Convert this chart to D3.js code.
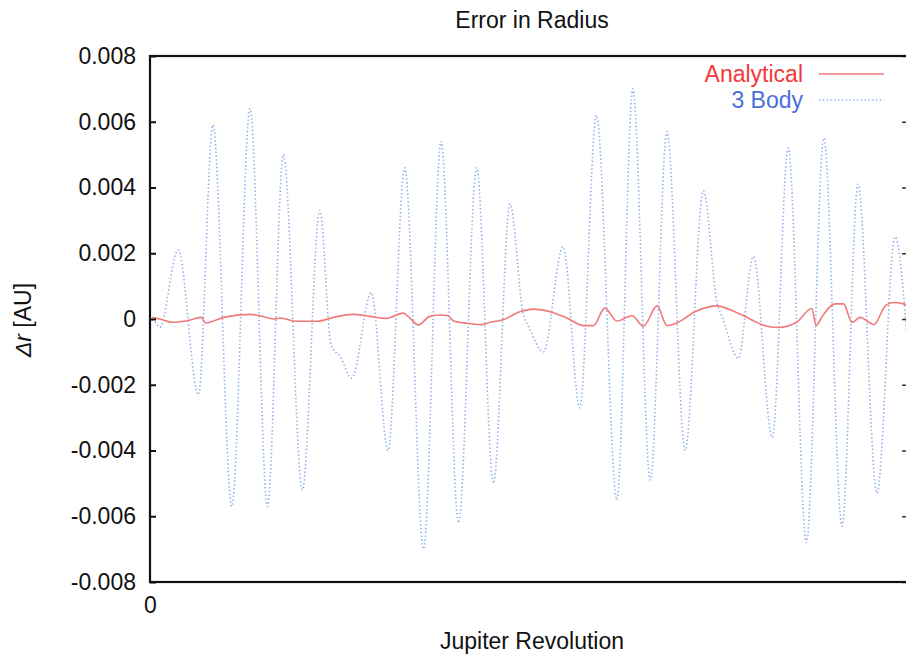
<!DOCTYPE html>
<html>
<head>
<meta charset="utf-8">
<script src="https://cdn.jsdelivr.net/npm/d3@7"></script>
<style>
  html, body { margin: 0; padding: 0; background: #fff; }
  svg { display: block; }
  text { font-family: "Liberation Sans", Arial, Helvetica, sans-serif; }
</style>
</head>
<body>
<div id="chart"></div>
<script>
// ---------- data ----------
const title = "Error in Radius";
const xLabel = "Jupiter Revolution";
const seriesNames = ["Analytical", "3 Body"];
const yTicks = [-0.008, -0.006, -0.004, -0.002, 0, 0.002, 0.004, 0.006, 0.008];
const xTicks = [0];

// x in fraction of the plotted revolution span, y in AU
const bodyX = [0.003, 0.007, 0.013, 0.037, 0.064, 0.083, 0.108, 0.132, 0.155, 0.176,
  0.201, 0.224, 0.239, 0.251, 0.266, 0.292, 0.314, 0.336, 0.361, 0.384,
  0.407, 0.431, 0.453, 0.475, 0.492, 0.501, 0.519, 0.545, 0.567, 0.589,
  0.616, 0.637, 0.660, 0.682, 0.706, 0.730, 0.748, 0.756, 0.776, 0.796,
  0.821, 0.842, 0.866, 0.889, 0.913, 0.934, 0.959, 0.983, 1.000];
const bodyY = [0.0000, -0.0001, -0.00025, 0.0021, -0.0023, 0.0059, -0.0057, 0.0064, -0.0057, 0.0050,
  -0.0052, 0.0033, -0.0008, -0.00115, -0.0018, 0.0008, -0.0040, 0.0046, -0.0070, 0.0054,
  -0.0062, 0.0046, -0.0050, 0.0035, 0.0002, -0.0003, -0.0010, 0.0022, -0.0027, 0.0062,
  -0.0055, 0.0070, -0.0049, 0.0057, -0.0040, 0.0039, 0.0005, 0.0000, -0.0012, 0.0019,
  -0.0036, 0.0052, -0.0068, 0.0055, -0.0063, 0.0041, -0.0053, 0.0025, -0.0010];

const analyticX = [0.003, 0.013, 0.030, 0.053, 0.068, 0.073, 0.097, 0.132, 0.145, 0.163,
  0.172, 0.193, 0.220, 0.242, 0.268, 0.290, 0.312, 0.334, 0.342, 0.354,
  0.369, 0.383, 0.393, 0.400, 0.418, 0.438, 0.449, 0.466, 0.488, 0.506,
  0.528, 0.550, 0.572, 0.585, 0.600, 0.616, 0.636, 0.651, 0.669, 0.682,
  0.695, 0.719, 0.747, 0.778, 0.814, 0.829, 0.853, 0.873, 0.879, 0.886,
  0.904, 0.915, 0.926, 0.937, 0.955, 0.970, 0.981, 0.994, 1.000];
const analyticY = [0.00005, 0.0000, -0.0001, -0.00003, 0.00005, -0.00012, 0.00005, 0.00014, 0.0001, 0.0000,
  0.00003, -0.00007, -0.00007, 0.00005, 0.00014, 0.00008, 0.00002, 0.00018, 0.00005, -0.00018,
  0.00008, 0.00012, 0.0001, -0.00005, -0.00013, -0.00017, -0.0001, -0.00002, 0.00022, 0.0003,
  0.00022, 0.00003, -0.0002, -0.0002, 0.00033, -0.00006, 0.0001, -0.00022, 0.0004, -0.0002,
  -0.00012, 0.00022, 0.0004, 0.00015, -0.00022, -0.00026, -0.0001, 0.00032, -0.0002, 0.00005,
  0.00046, 0.00046, -0.0001, 0.00005, -0.00017, 0.0004, 0.0005, 0.00046, 0.0004];

// ---------- layout ----------
const W = 906, H = 660;
const mLeft = 150, mRight = 908, mTop = 56, mBottom = 582;
const colors = { analytical: "#f07a78", body: "#8eaeea", analyticalText: "#f2383a", bodyText: "#4a6fdc" };
const FS = 23;

const svg = d3.select("#chart").append("svg").attr("width", W).attr("height", H);

const x = d3.scaleLinear().domain([0, 1]).range([mLeft, mRight]);
const y = d3.scaleLinear().domain([-0.008, 0.008]).range([mBottom, mTop]);

const fmt = d => d === 0 ? "0" : d.toFixed(3);

// title
svg.append("text").attr("x", 532).attr("y", 28).attr("text-anchor", "middle")
  .attr("font-size", FS).attr("fill", "#111").text(title);

// clip for data
svg.append("clipPath").attr("id", "clip").append("rect")
  .attr("x", mLeft).attr("y", mTop).attr("width", mRight - mLeft).attr("height", mBottom - mTop);

const plot = svg.append("g").attr("clip-path", "url(#clip)");

const line = d3.line().x(d => x(d[0])).y(d => y(d[1])).curve(d3.curveMonotoneX);

const bodyData = bodyX.map((v, i) => [v, bodyY[i]]);
const analyticData = analyticX.map((v, i) => [v, analyticY[i]]);

plot.append("path").datum(bodyData).attr("d", line)
  .attr("fill", "none").attr("stroke", colors.body).attr("stroke-width", 1.6)
  .attr("stroke-dasharray", "1.4,2.4");

plot.append("path").datum(analyticData).attr("d", line)
  .attr("fill", "none").attr("stroke", colors.analytical).attr("stroke-width", 1.6);

// y axis left
const yAxis = d3.axisLeft(y).tickValues(yTicks).tickFormat(fmt).tickSize(-6).tickPadding(14);
const gy = svg.append("g").attr("transform", `translate(${mLeft},0)`).call(yAxis);
gy.select(".domain").remove();
gy.selectAll(".tick line").attr("stroke", "#111").attr("stroke-width", 2);
gy.selectAll(".tick text").attr("font-size", FS).attr("fill", "#111")
  .attr("font-family", "'Liberation Sans', Arial, sans-serif");

// y axis right (ticks only)
const yAxisR = d3.axisRight(y).tickValues(yTicks).tickFormat("").tickSize(-6);
const gyr = svg.append("g").attr("transform", `translate(${mRight},0)`).call(yAxisR);
gyr.select(".domain").remove();
gyr.selectAll(".tick line").attr("stroke", "#333").attr("stroke-width", 1.5);

// x axis labels
const xAxis = d3.axisBottom(x).tickValues(xTicks).tickFormat(d3.format("d")).tickSize(0).tickPadding(15);
const gx = svg.append("g").attr("transform", `translate(0,${mBottom})`).call(xAxis);
gx.select(".domain").remove();
gx.selectAll(".tick text").attr("font-size", FS).attr("fill", "#111")
  .attr("font-family", "'Liberation Sans', Arial, sans-serif");

// frame
svg.append("rect").attr("x", mLeft).attr("y", mTop).attr("width", mRight - mLeft).attr("height", mBottom - mTop)
  .attr("fill", "none").attr("stroke", "#111").attr("stroke-width", 2.2);

// axis titles
svg.append("text").attr("x", 532).attr("y", 649).attr("text-anchor", "middle")
  .attr("font-size", FS).attr("fill", "#111").text(xLabel);

const yl = svg.append("text").attr("transform", "translate(31,320) rotate(-90)")
  .attr("text-anchor", "middle").attr("font-size", FS).attr("fill", "#111");
yl.append("tspan").attr("font-style", "italic").text("Δr");
yl.append("tspan").text(" [AU]");

// legend
const legend = [
  { name: seriesNames[0], color: colors.analytical, text: colors.analyticalText, dash: null, yy: 74 },
  { name: seriesNames[1], color: colors.body, text: colors.bodyText, dash: "1.4,2.4", yy: 100 }
];
legend.forEach(l => {
  svg.append("text").attr("x", 803).attr("y", l.yy + 8).attr("text-anchor", "end")
    .attr("font-size", FS).attr("fill", l.text).text(l.name);
  const ln = svg.append("line").attr("x1", 819).attr("x2", 884).attr("y1", l.yy).attr("y2", l.yy)
    .attr("stroke", l.color).attr("stroke-width", 1.6);
  if (l.dash) ln.attr("stroke-dasharray", l.dash);
});
</script>
</body>
</html>
